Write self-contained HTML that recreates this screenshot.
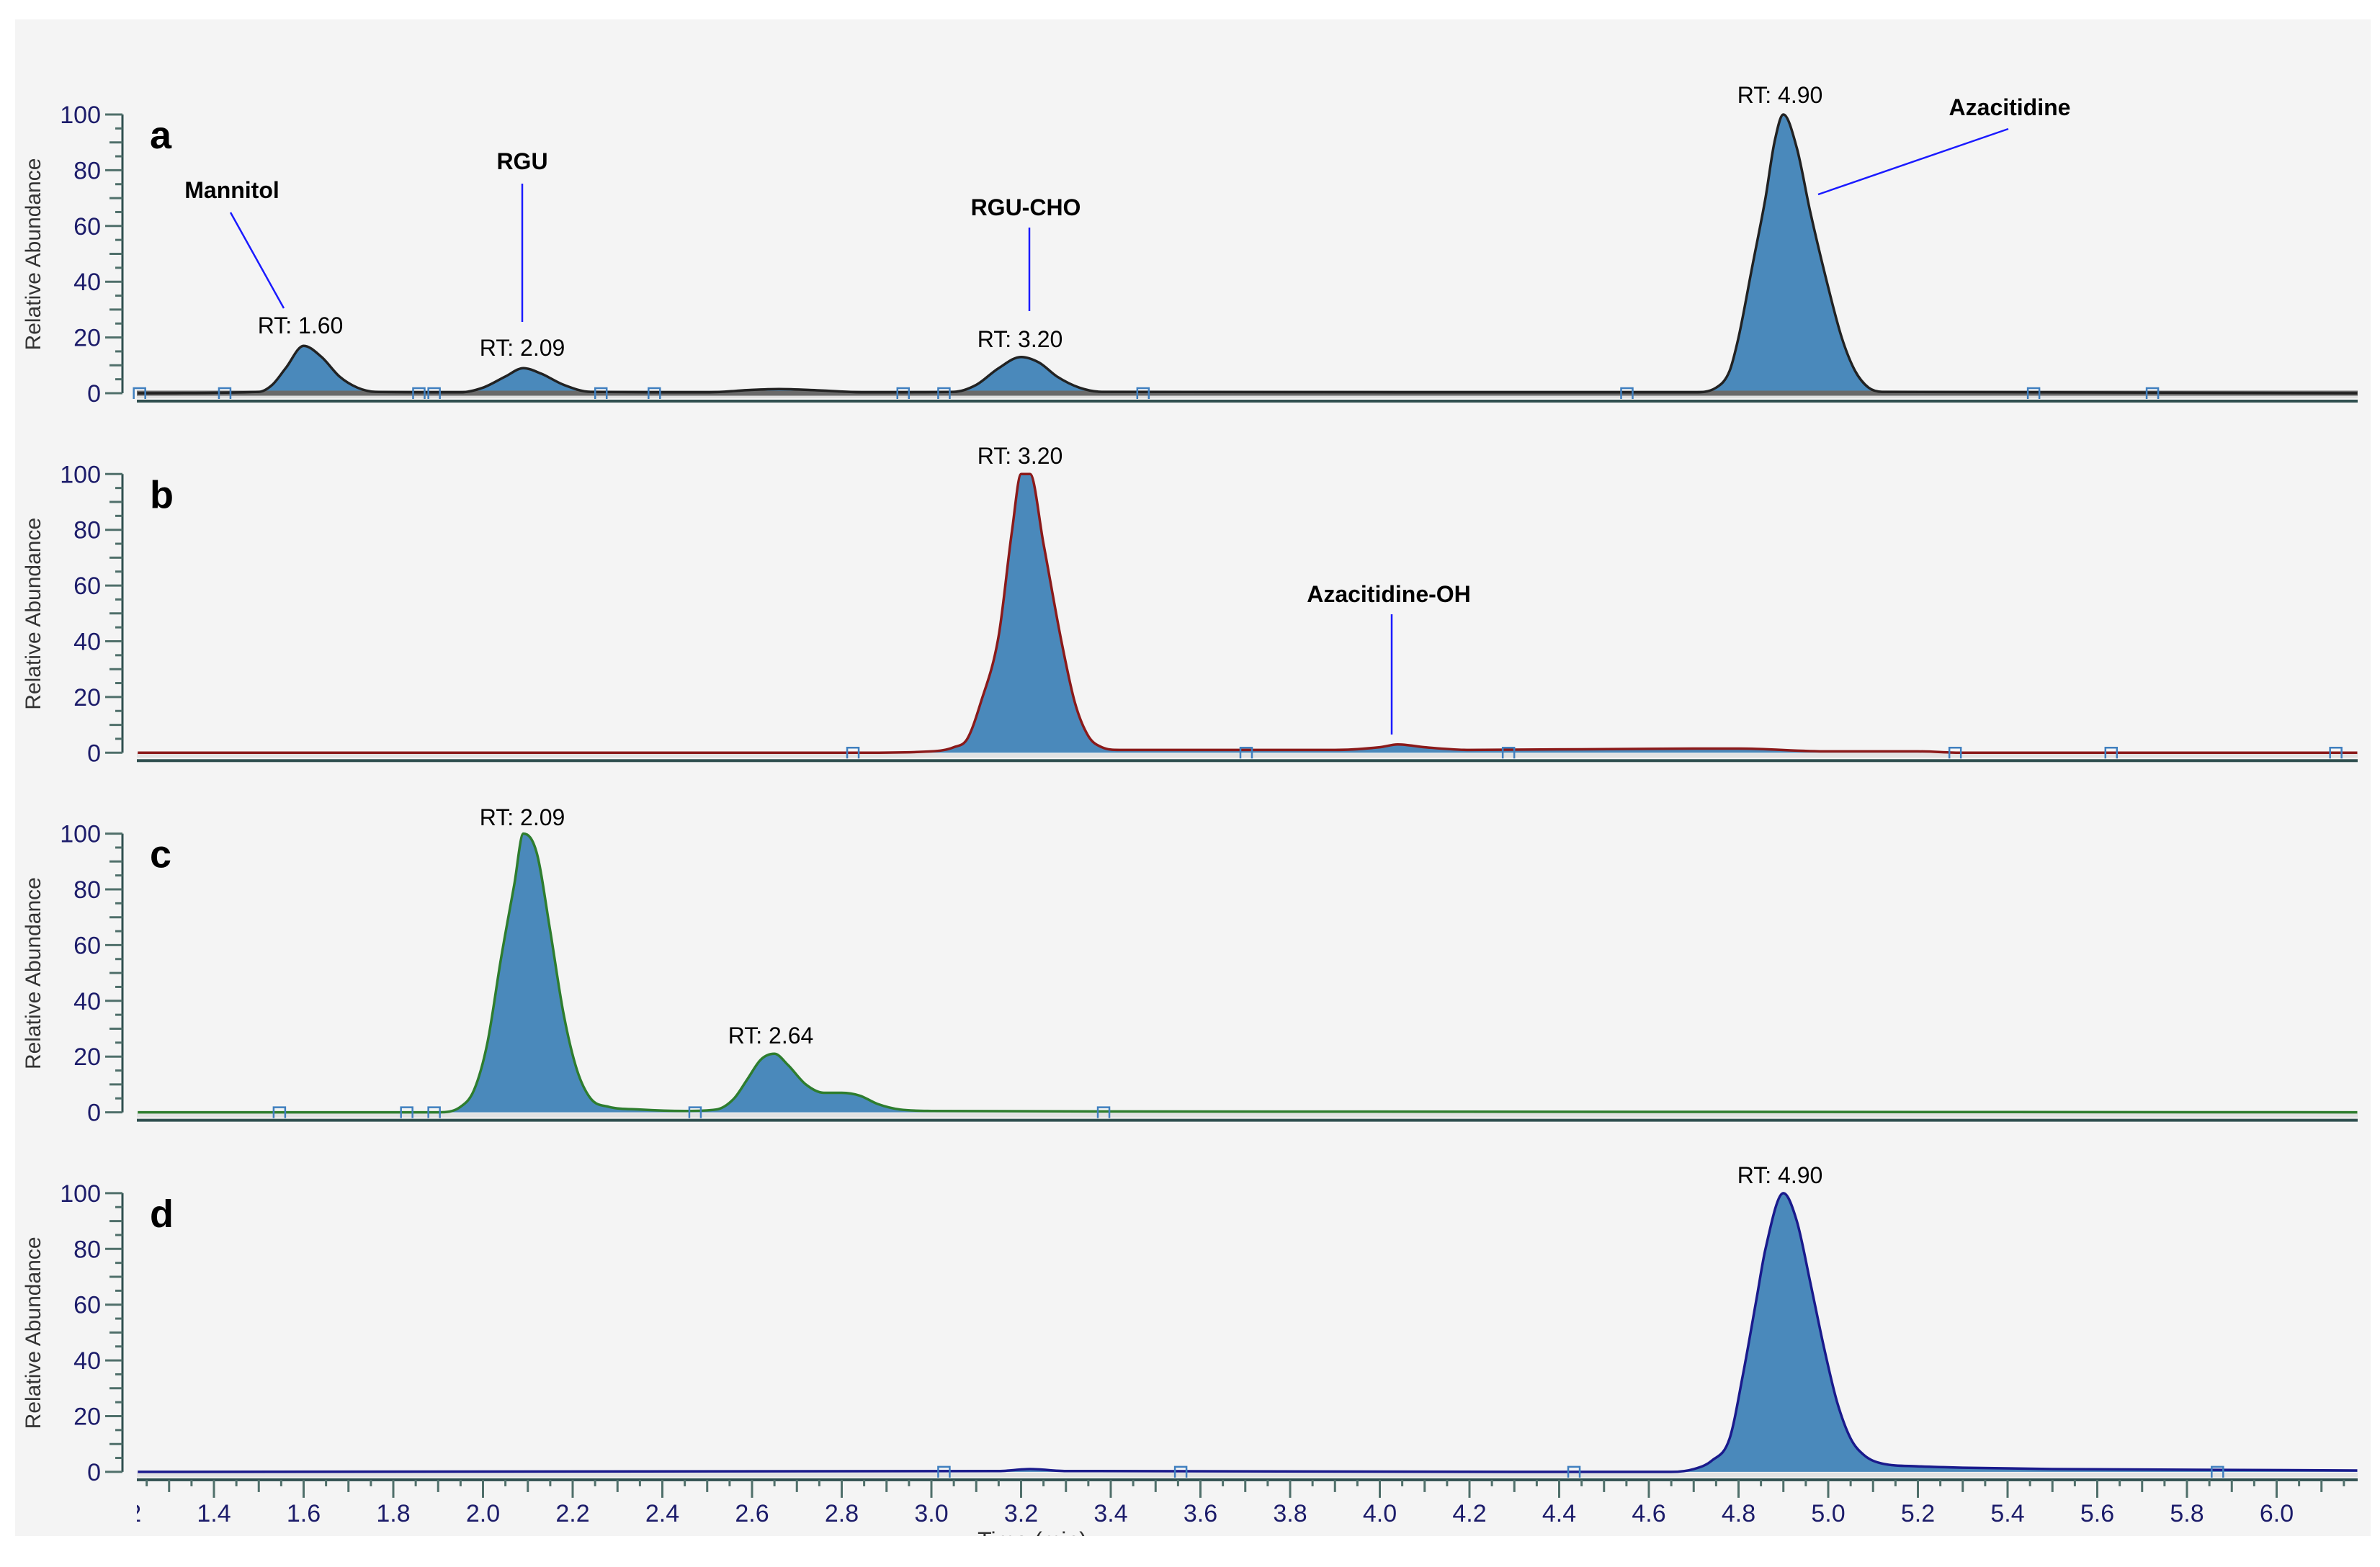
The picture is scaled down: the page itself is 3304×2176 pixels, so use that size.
<!DOCTYPE html>
<html><head><meta charset="utf-8"><style>
html,body{margin:0;padding:0;background:#fff;}
svg{display:block;font-family:"Liberation Sans",sans-serif;}
</style></head><body>
<svg id="chart" width="3304" height="2176" viewBox="0 0 3304 2176" xmlns="http://www.w3.org/2000/svg">
<rect x="21" y="27" width="3270" height="2106" fill="#f4f4f4"/>
<g id="layer"></g>
</svg>
<script>
// ---- data ----
const panelNames = ['a','b','c','d'];
const seriesA_t = [1.23,1.50,1.53,1.56,1.60,1.64,1.68,1.72,1.76,1.95,2.00,2.05,2.09,2.13,2.18,2.24,2.50,2.60,2.66,2.75,2.85,3.05,3.10,3.15,3.20,3.24,3.28,3.33,3.38,4.70,4.75,4.78,4.80,4.83,4.86,4.88,4.90,4.93,4.96,5.00,5.03,5.06,5.09,5.12,6.18];
const seriesA_v = [0,0.5,3,9,17,13,6,2,0.5,0.3,2,6,9,7,3,0.5,0.3,1.2,1.5,1,0.3,0.5,3,9,13,11,6,2,0.5,0.3,2,8,20,45,70,90,100,88,65,38,20,8,2,0.5,0];
const seriesB_t = [1.23,2.85,3.00,3.05,3.08,3.11,3.15,3.18,3.20,3.22,3.25,3.29,3.32,3.35,3.38,3.42,3.90,4.00,4.04,4.10,4.20,4.70,4.80,5.00,5.20,5.30,6.18];
const seriesB_v = [0,0,0.5,2,5,18,42,80,100,100,75,40,18,6,2,1,1,2,3,2,1,1.5,1.5,0.5,0.5,0,0];
const seriesC_t = [1.23,1.90,1.95,1.98,2.01,2.04,2.07,2.09,2.12,2.15,2.18,2.21,2.24,2.28,2.35,2.45,2.52,2.56,2.59,2.62,2.65,2.68,2.72,2.76,2.80,2.84,2.88,2.93,3.00,3.40,6.18];
const seriesC_v = [0,0,2,8,25,55,82,100,93,65,35,15,5,2,1,0.5,1,5,12,19,21,17,10,7,7,6,3,1,0.5,0.3,0];
const seriesD_t = [1.23,3.15,3.22,3.30,4.65,4.70,4.74,4.78,4.81,4.84,4.86,4.90,4.93,4.96,4.99,5.02,5.05,5.08,5.12,5.20,5.30,5.50,6.18];
const seriesD_v = [0,0.3,1,0.3,0,1,4,12,35,62,80,100,90,68,45,25,12,6,3,2,1.5,1,0.5];
const markersA = [1.234,1.424,1.857,1.891,2.263,2.382,2.937,3.028,3.472,4.551,5.458,5.723];
const markersB = [2.825,3.702,4.287,5.283,5.631,6.132];
const markersC = [1.546,1.83,1.891,2.473,3.384];
const markersD = [3.028,3.556,4.433,5.868];
const yTicks = [0,20,40,60,80,100];
const xTicks = [1.2,1.4,1.6,1.8,2.0,2.2,2.4,2.6,2.8,3.0,3.2,3.4,3.6,3.8,4.0,4.2,4.4,4.6,4.8,5.0,5.2,5.4,5.6,5.8,6.0];

// ---- geometry ----
const X0=190, X1=3273;
const xs = t => 297 + (t-1.4)*622.5;
const zeroY = i => 546 + 499.3*i;
const ys = (i,v) => zeroY(i) - v*3.87;
const NS='http://www.w3.org/2000/svg';
const layer=document.getElementById('layer');
function mk(tag,attrs,parent){const e=document.createElementNS(NS,tag);for(const k in attrs)e.setAttribute(k,attrs[k]);(parent||layer).appendChild(e);return e;}
// monotone cubic (Fritsch-Carlson) path
function smooth(p){
  const n=p.length, dx=[], s=[], m=new Array(n);
  for(let k=0;k<n-1;k++){dx[k]=p[k+1][0]-p[k][0]; s[k]=(p[k+1][1]-p[k][1])/dx[k];}
  m[0]=s[0]; m[n-1]=s[n-2];
  for(let k=1;k<n-1;k++){ m[k]=(s[k-1]*s[k]<=0)?0:(s[k-1]+s[k])/2; }
  for(let k=0;k<n-1;k++){
    if(s[k]===0){m[k]=0;m[k+1]=0;continue;}
    const a=m[k]/s[k], b=m[k+1]/s[k], h=a*a+b*b;
    if(h>9){const t=3/Math.sqrt(h); m[k]=t*a*s[k]; m[k+1]=t*b*s[k];}
  }
  let d='M'+p[0][0].toFixed(1)+','+p[0][1].toFixed(1);
  for(let k=0;k<n-1;k++){
    const h=dx[k]/3;
    d+=` C${(p[k][0]+h).toFixed(1)},${(p[k][1]+m[k]*h).toFixed(1)} ${(p[k+1][0]-h).toFixed(1)},${(p[k+1][1]-m[k+1]*h).toFixed(1)} ${p[k+1][0].toFixed(1)},${p[k+1][1].toFixed(1)}`;
  }
  return d;
}

const series=[[seriesA_t,seriesA_v,'#222222',markersA],[seriesB_t,seriesB_v,'#8b1a1a',markersB],[seriesC_t,seriesC_v,'#2e7d2e',markersC],[seriesD_t,seriesD_v,'#1a1a8c',markersD]];

series.forEach((s,i)=>{
  const g=mk('g',{});
  
  
  const z=zeroY(i);
  const ax=mk('line',{x1:170,y1:ys(i,100),x2:170,y2:z,stroke:'#2f4f4f','stroke-width':3},g);
  
  
  for(let v=0;v<=100;v+=5){
    const len = v%20===0?24:(v%10===0?18:10);
    mk('line',{x1:170-len,y1:ys(i,v),x2:170,y2:ys(i,v),stroke:'#4f6f6a','stroke-width':3},g);
  }
  yTicks.forEach(v=>{
    const t=mk('text',{x:140,y:ys(i,v)+12,'text-anchor':'end','font-size':34,fill:'#1c1c6a'},g);
    t.textContent=v;
    
    
  });
  const yt=mk('text',{x:0,y:0,'font-size':30,fill:'#333','text-anchor':'middle',transform:`translate(56,${z-193}) rotate(-90)`},g);
  yt.textContent='Relative Abundance';
  
  
  const pl=mk('text',{x:208,y:z-340,'font-size':54,'font-weight':'bold',fill:'#000'},g);
  pl.textContent=panelNames[i];
  
  
  mk('line',{x1:X0,y1:z+4,x2:X1,y2:z+4,stroke:'#e2e2e2','stroke-width':6},g);
  const bx=mk('line',{x1:X0,y1:z+11,x2:X1,y2:z+11,stroke:'#2f4f4f','stroke-width':4},g);
  
  
  const [ts,vs,col,marks]=s;
  const pts=ts.map((t,k)=>[xs(t),ys(i,vs[k])]);
  const ld=smooth(pts);
  const area=mk('path',{d:ld+` L${pts[pts.length-1][0]},${z} L${pts[0][0]},${z} Z`,fill:'#4a89bb',stroke:'none'},g);
  
  
  if(i===0) mk('line',{x1:X0,y1:z,x2:X1,y2:z,stroke:'#6a6a6a','stroke-width':7},g);
  const line=mk('path',{d:ld,fill:'none',stroke:col,'stroke-width':3.5,'stroke-linejoin':'round'},g);
  
  
  marks.forEach(t=>{
    const m=mk('path',{d:`M${xs(t)-8},${z+8} L${xs(t)-8},${z-7} L${xs(t)+8},${z-7} L${xs(t)+8},${z+8}`,fill:'none',stroke:'#3f7fbf','stroke-width':2.5},g);
    
    
  });
});

const zb=zeroY(3)+11;
const xg=mk('g',{});


for(let k=0;k<=100;k++){
  const t=1.2+k*0.05; const x=xs(t);
  if(x<X0+2||x>X1) continue;
  const r=Math.round(t*100);
  const len = r%20===0?25:(r%10===0?17:9);
  mk('line',{x1:x,y1:zb,x2:x,y2:zb+len,stroke:'#4f6f6a','stroke-width':3},xg);
}
const cp=mk('clipPath',{id:'xclip'});
mk('rect',{x:X0,y:zb,width:X1-X0,height:80},cp);
xTicks.forEach(t=>{
  const tx=mk('text',{x:xs(t),y:zb+58,'text-anchor':'middle','font-size':34,fill:'#1c1c6a','clip-path':'url(#xclip)'},xg);
  tx.textContent=t.toFixed(1);
  
  
});
const cp2=mk('clipPath',{id:'bgclip'});
mk('rect',{x:21,y:27,width:3270,height:2106},cp2);
const xt=mk('text',{x:1433,y:2150,'text-anchor':'middle','font-size':32,fill:'#333','clip-path':'url(#bgclip)'});
xt.textContent='Time (min)';



const notes=[
 ['Mannitol',322,275,true],['RGU',725,235,true],['RGU-CHO',1424,299,true],['Azacitidine',2790,160,true],['Azacitidine-OH',1928,836,true],
 ['RT: 1.60',417,463,false],['RT: 2.09',725,494,false],['RT: 3.20',1416,482,false],['RT: 4.90',2471,143,false],
 ['RT: 3.20',1416,644,false],['RT: 2.09',725,1146,false],['RT: 2.64',1070,1449,false],['RT: 4.90',2471,1643,false]
];
notes.forEach(n=>{
  const t=mk('text',{x:n[1],y:n[2],'text-anchor':'middle','font-size':32,fill:'#000','font-weight':n[3]?'bold':'normal'});
  t.textContent=n[0];
  
  
});
const leaders=[[320,295,394,428],[725,255,725,447],[1429,316,1429,432],[2788,179,2524,270],[1932,853,1932,1020]];
leaders.forEach(l=>{
  const e=mk('line',{x1:l[0],y1:l[1],x2:l[2],y2:l[3],stroke:'#1a1aff','stroke-width':2.5});
  
  
});
</script>
</body></html>
